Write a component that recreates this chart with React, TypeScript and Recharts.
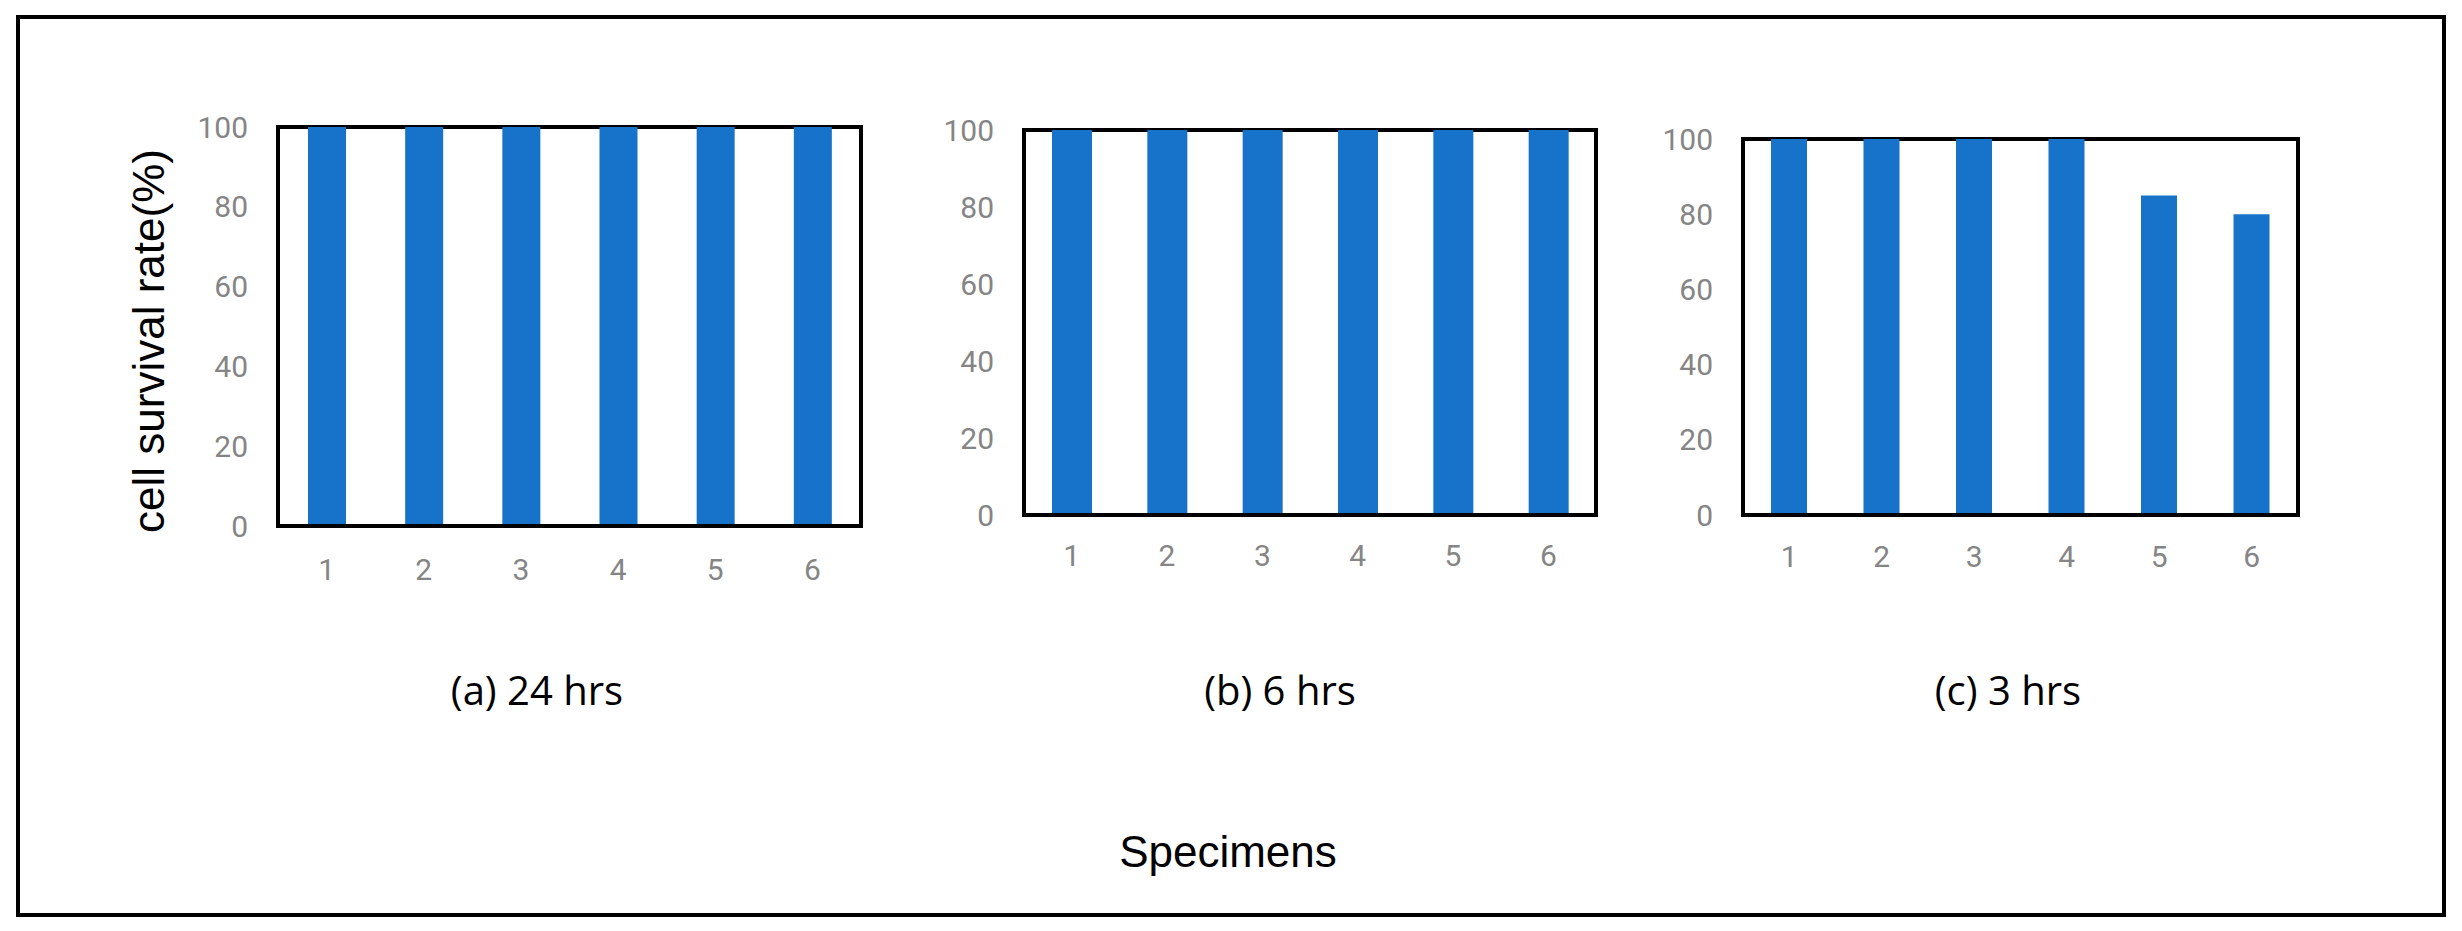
import { BarChart, Bar, XAxis, YAxis, ReferenceArea } from "recharts";

const SPECIMENS = ["1", "2", "3", "4", "5", "6"];
const SURVIVAL_24H = [100, 100, 100, 100, 100, 100];
const SURVIVAL_6H = [100, 100, 100, 100, 100, 100];
const SURVIVAL_3H = [100, 100, 100, 100, 85, 80];
const Y_TICKS = [0, 20, 40, 60, 80, 100];
const PANEL_TITLES = ["(a) 24 hrs", "(b) 6 hrs", "(c) 3 hrs"];
const Y_LABEL = "cell survival rate(%)";
const X_LABEL = "Specimens";

const BAR_COLOR = "#1772c9";
const TICK_STYLE = { fontSize: 30, fill: "#858585", fontFamily: "Roboto, sans-serif" };
const FRAME = { stroke: "#000", strokeWidth: 4 };

interface PanelProps {
  values: number[];
  // plot frame (in page pixels)
  left: number;
  top: number;
  plotWidth: number;
  plotHeight: number;
  barSize: number;
  xTickMargin: number;
}

function Panel({ values, left, top, plotWidth, plotHeight, barSize, xTickMargin }: PanelProps) {
  const data = SPECIMENS.map((s, i) => ({ specimen: s, value: values[i] }));
  const yAxisW = 120;
  const marginTop = 30;
  const xAxisH = 80;
  return (
    <div style={{ position: "absolute", left: left - yAxisW, top: top - marginTop }}>
      <BarChart
        width={yAxisW + plotWidth + 20}
        height={marginTop + plotHeight + xAxisH}
        data={data}
        margin={{ top: marginTop, right: 20, bottom: 0, left: 0 }}
      >
        <XAxis
          dataKey="specimen"
          height={xAxisH}
          axisLine={FRAME}
          tickLine={false}
          tickSize={0}
          tickMargin={xTickMargin}
          tick={TICK_STYLE}
        />
        <YAxis
          width={yAxisW}
          domain={[0, 100]}
          ticks={Y_TICKS}
          axisLine={FRAME}
          tickLine={false}
          tickSize={0}
          tickMargin={30}
          tick={TICK_STYLE}
        />
        {/* box around the plot area */}
        <ReferenceArea
          y1={0}
          y2={100}
          fill="none"
          fillOpacity={0}
          stroke="#000"
          strokeWidth={4}
          ifOverflow="visible"
        />
        <Bar dataKey="value" fill={BAR_COLOR} barSize={barSize} isAnimationActive={false} />
      </BarChart>
    </div>
  );
}

export default function App() {
  const titleFont = "'Open Sans', 'Liberation Sans', sans-serif";
  return (
    <div
      style={{
        position: "absolute",
        left: 0,
        top: 0,
        width: 2462,
        height: 931,
        background: "#fff",
        overflow: "hidden",
      }}
    >
      <svg width={2462} height={931} style={{ position: "absolute", left: 0, top: 0 }}>
        <rect x={18} y={17} width={2426} height={898} fill="none" stroke="#000" strokeWidth={4} />
        <text
          x={148}
          y={341}
          transform="rotate(-90 148 341)"
          textAnchor="middle"
          dominantBaseline="central"
          fontSize={44}
          fontFamily="'Liberation Sans', Arial, sans-serif"
          fill="#000"
        >
          {Y_LABEL}
        </text>
        <text x={537} y={705} textAnchor="middle" fontSize={40} fontFamily={titleFont} fill="#000">
          {PANEL_TITLES[0]}
        </text>
        <text x={1280} y={705} textAnchor="middle" fontSize={40} fontFamily={titleFont} fill="#000">
          {PANEL_TITLES[1]}
        </text>
        <text x={2008} y={705} textAnchor="middle" fontSize={40} fontFamily={titleFont} fill="#000">
          {PANEL_TITLES[2]}
        </text>
        <text x={1228} y={867} textAnchor="middle" fontSize={44} fontFamily="'Liberation Sans', Arial, sans-serif" fill="#000">
          {X_LABEL}
        </text>
      </svg>
      <Panel values={SURVIVAL_24H} left={278} top={127} plotWidth={583} plotHeight={399} barSize={38} xTickMargin={33} />
      <Panel values={SURVIVAL_6H} left={1024} top={130} plotWidth={572} plotHeight={385} barSize={40} xTickMargin={30} />
      <Panel values={SURVIVAL_3H} left={1743} top={139} plotWidth={555} plotHeight={376} barSize={36} xTickMargin={31} />
    </div>
  );
}
